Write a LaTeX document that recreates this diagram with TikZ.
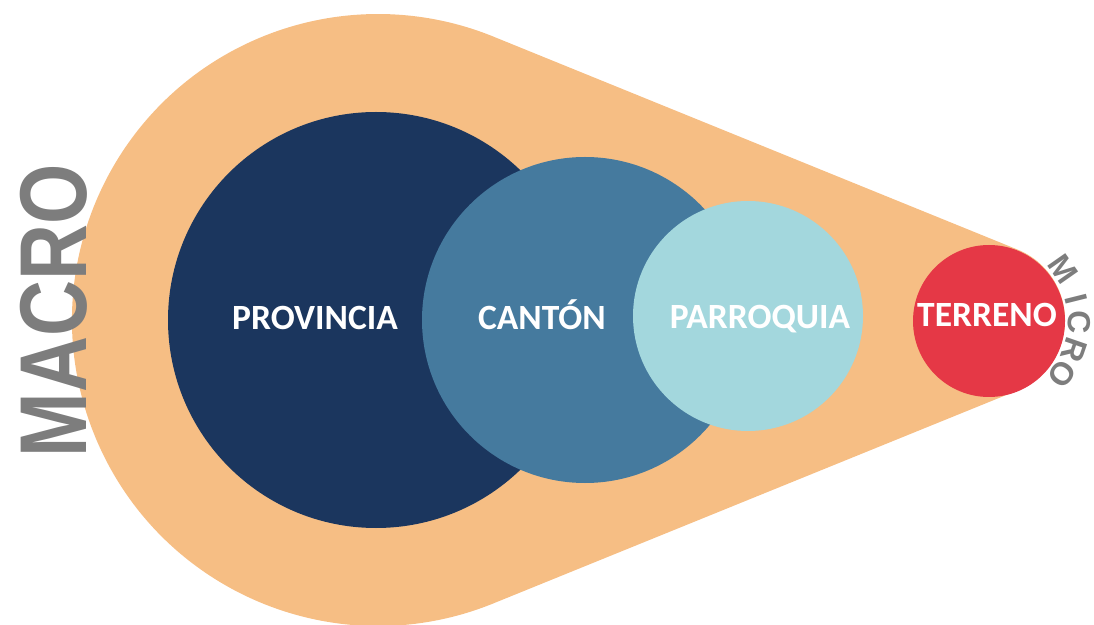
\documentclass[tikz,border=0pt]{standalone}
\usepackage{fontspec}
\usetikzlibrary{calc}
\newfontfamily\labfont{Carlito}
\newfontfamily\grayfont{Liberation Sans}
\definecolor{teardrop}{RGB}{246,190,132}
\definecolor{navy}{RGB}{27,54,94}
\definecolor{steel}{RGB}{69,122,158}
\definecolor{lightb}{RGB}{163,215,221}
\definecolor{redc}{RGB}{229,56,70}
\definecolor{grayc}{RGB}{125,125,125}
\begin{document}
\begin{tikzpicture}
\tikzset{
  disc/.style={circle, inner sep=0pt, outer sep=0pt, minimum size=#1},
  lab/.style={anchor=base, inner sep=0pt, text=white, font=\labfont\bfseries\fontsize{35.5}{36}\selectfont},
  macrotext/.style={inner sep=0pt, text=grayc, rotate=90, font=\grayfont\bfseries\fontsize{95}{95}\selectfont},
  microtext/.style={inner sep=0pt, text=grayc, font=\grayfont\bfseries\fontsize{32}{32}\selectfont}
}
\useasboundingbox (0pt,0pt) rectangle (1094pt,624pt);
\coordinate (B) at (378pt,304pt);
\coordinate (T) at (989pt,304pt);
\fill[teardrop] ($(B)+(67.89:306pt)$) -- ($(T)+(67.89:76pt)$)
  arc[start angle=67.89, end angle=-67.89, radius=76pt]
  -- ($(B)+(-67.89:306pt)$)
  arc[start angle=-67.89, end angle=-292.11, radius=306pt] -- cycle;
\node[disc=416pt, fill=navy] (prov) at (376pt,304pt) {};
\node[disc=326pt, fill=steel] (canton) at (585pt,304pt) {};
\node[disc=230pt, fill=lightb] (parr) at (748pt,308pt) {};
\node[disc=152pt, fill=redc] (terr) at (989pt,303pt) {};
\node[lab] (tprov) at (315pt,294pt) {PROVINCIA};
\node[lab] (tcanton) at (542pt,294pt) {CANTÓN};
\node[lab] (tparr) at (760pt,295pt) {PARROQUIA};
\node[lab] (tterr) at (987pt,297pt) {TERRENO};
\node[macrotext] (macro) at (54pt,313pt) {\scalebox{0.816}[1]{MACRO}};
\foreach \a/\l [count=\i] in {35/M,14/I,-1/C,-19/R,-36/O}
  \node[microtext, rotate=\a-90] (micro\i) at ($(terr.center)+(\a:90pt)$) {\l};
\end{tikzpicture}
\end{document}
